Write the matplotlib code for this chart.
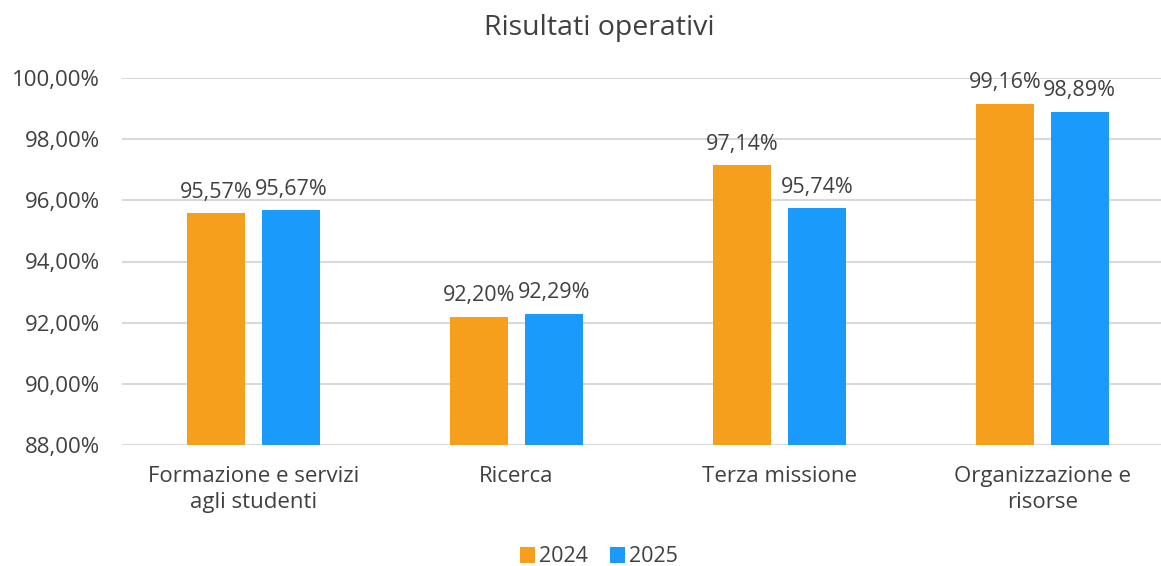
import matplotlib
matplotlib.use("Agg")
import matplotlib.pyplot as plt
import numpy as np

categories = ["Formazione e servizi\nagli studenti", "Ricerca", "Terza missione", "Organizzazione e\nrisorse"]
series_names = ["2024", "2025"]
values_2024 = [95.57, 92.20, 97.14, 99.16]
values_2025 = [95.67, 92.29, 95.74, 98.89]
y_ticks = [88, 90, 92, 94, 96, 98, 100]

colors = ["#F59F1C", "#1A9BFC"]
text_color = "#404040"

plt.rcParams["font.family"] = ["Open Sans", "DejaVu Sans"]

fig = plt.figure(figsize=(11.61, 5.66), dpi=100)
W, H = 1161, 566
left, right, top, bottom = 122, 1174, 78, 445
ax = fig.add_axes([left / W, 1 - bottom / H, (right - left) / W, (bottom - top) / H])

x = np.arange(len(categories))
bw = 0.222
off = 0.142
for vals, name, col, d in zip([values_2024, values_2025], series_names, colors, [-off, off]):
    bars = ax.bar(x + d, [v - 88 for v in vals], bw, bottom=88, color=col, label=name, zorder=3)
    for b, v in zip(bars, vals):
        ax.text(b.get_x() + b.get_width() / 2, v + 0.35, f"{v:.2f}%".replace(".", ","),
                ha="center", va="bottom", fontsize=15.5, color=text_color)

ax.set_xlim(-0.5, len(categories) - 0.5)
ax.set_ylim(88, 100)
ax.set_yticks(y_ticks)
ax.set_yticklabels([f"{t:.2f}%".replace(".", ",") for t in y_ticks], fontsize=16, color=text_color)
ax.set_xticks(x)
ax.set_xticklabels(categories, fontsize=16, color=text_color, linespacing=1.35)
ax.tick_params(axis="both", length=0)
ax.tick_params(axis="y", pad=16)
ax.tick_params(axis="x", pad=15)
ax.yaxis.grid(True, color="#D9D9D9", linewidth=1.5, zorder=0)
for s in ax.spines.values():
    s.set_visible(False)

fig.text(599 / W, 1 - 28 / H, "Risultati operativi", ha="center", va="center",
         fontsize=20.5, color=text_color)

fig.legend(loc="center", bbox_to_anchor=(599 / W, 1 - 557 / H), ncol=2, frameon=False,
           fontsize=15.5, handlelength=0.7, handleheight=0.7, handletextpad=0.2,
           columnspacing=1.0, labelcolor=text_color)

fig.savefig("out.png", dpi=100)
